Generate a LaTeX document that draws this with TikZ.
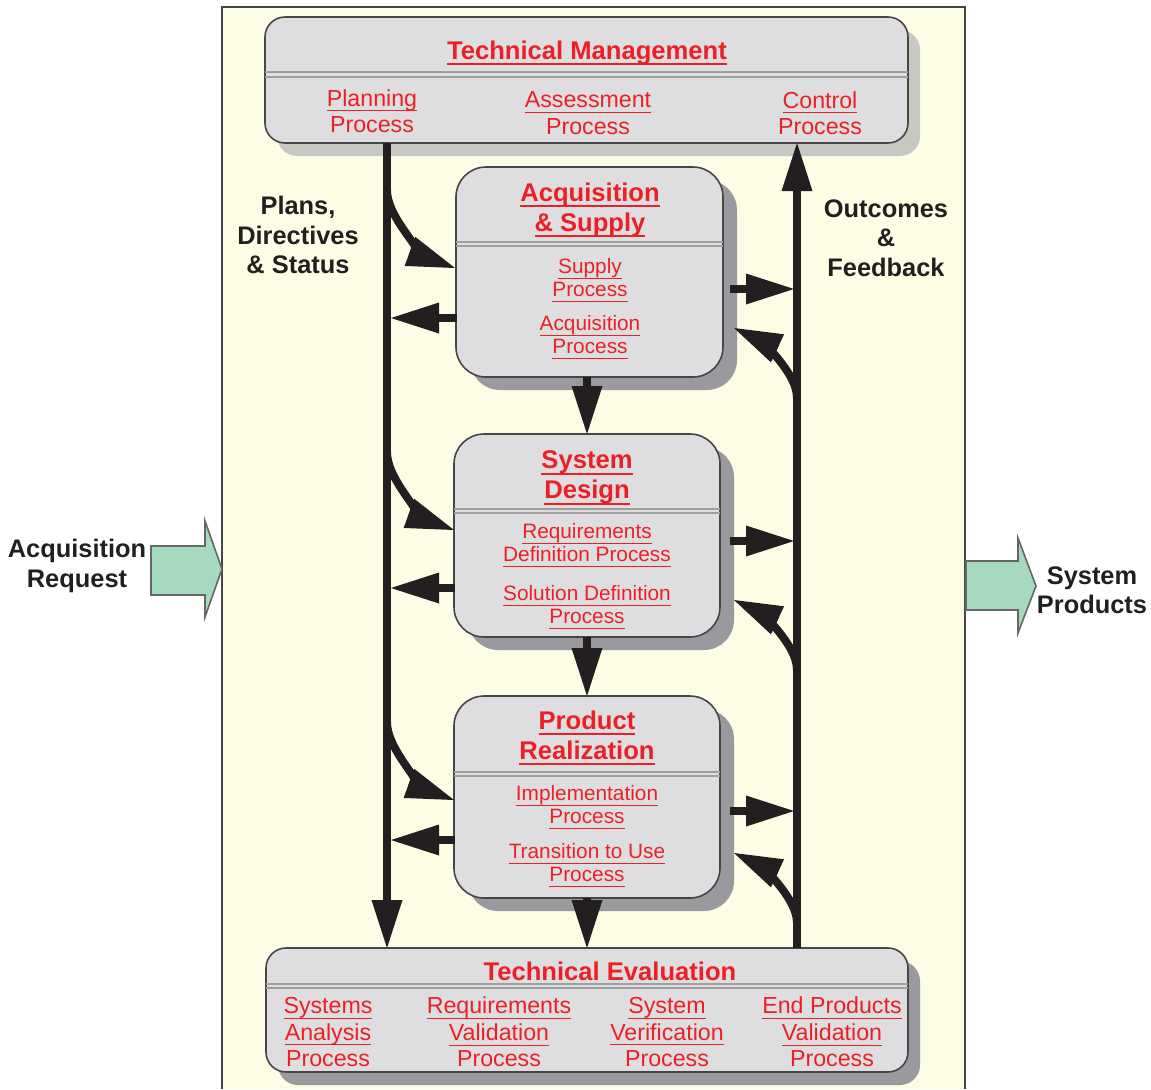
\documentclass[tikz,border=0pt]{standalone}
\usepackage{fontspec}
\setmainfont{Liberation Sans}
\usetikzlibrary{arrows.meta,shadows}

\definecolor{panelcream}{RGB}{253,253,230}
\definecolor{boxgray}{RGB}{222,222,225}
\definecolor{shadegray}{RGB}{154,154,158}
\definecolor{shadelight}{RGB}{200,200,194}
\definecolor{procred}{RGB}{236,32,36}
\definecolor{flowgreen}{RGB}{166,218,191}
\definecolor{edgegray}{RGB}{70,70,70}
\definecolor{inkblack}{RGB}{35,31,32}

% red underline with fixed depth and thickness
\newcommand{\redul}[3]{{\setbox0=\hbox{#3}\copy0\kern-\wd0\rule[-#1]{\wd0}{#2}}}
\newcommand{\tu}[1]{\redul{3.2pt}{1pt}{#1}}
\newcommand{\su}[1]{\redul{2.6pt}{0.5pt}{#1}}

\tikzset{
  mainbox/.style={draw=edgegray, line width=0.8pt, fill=boxgray, rounded corners=10pt,
    drop shadow={shadow xshift=6pt, shadow yshift=-6.5pt, fill=#1, opacity=1}},
  stepbox/.style={draw=edgegray, line width=0.8pt, fill=boxgray, rounded corners=15pt,
    drop shadow={shadow xshift=7pt, shadow yshift=-6.5pt, fill=shadegray, opacity=1}},
  divline/.style={draw=gray!75, line width=0.6pt},
  headtext/.style={text=procred, font=\bfseries\fontsize{12.8}{15}\selectfont, align=center},
  toptext/.style={text=procred, font=\fontsize{11.6}{13.2}\selectfont, align=center},
  midtext/.style={text=procred, font=\fontsize{10.4}{11.5}\selectfont, align=center},
  sidetext/.style={text=inkblack, font=\bfseries\fontsize{12.7}{14.7}\selectfont, align=center},
  flow/.style={draw=inkblack, line width=4pt, -{Triangle[length=24pt, width=15.5pt, line width=0pt]}},
  bigarrow/.style={draw=gray!80!black, line width=0.8pt, fill=flowgreen, line join=miter}
}

\begin{document}
\begin{tikzpicture}[x=0.5pt, y=-0.5pt, every node/.style={inner sep=0pt, outer sep=0pt}]
    \useasboundingbox (0,0) rectangle (1151,1089);

    % Background panel
    \fill[panelcream] (222,7) rectangle (965,1089);
    \draw[edgegray, line width=0.8pt] (222,1089) -- (222,7) -- (965,7) -- (965,1089);

    % Input and output arrows
    \draw[bigarrow] (151,546) -- (205,546) -- (205,521) -- (222,569) -- (205,617) -- (205,595) -- (151,595) -- cycle;
    \node[sidetext] (req) at (77,566) {Acquisition\\Request};
    \draw[bigarrow] (966,561) -- (1018,561) -- (1018,538) -- (1036,586) -- (1018,633) -- (1018,610) -- (966,610) -- cycle;
    \node[sidetext] (prod) at (1092,590) {System\\Products};

    % Technical Management
    \node[mainbox=shadelight, minimum width=321.5pt, minimum height=63pt] (tm) at (586.5,80) {};
    \draw[divline] (tm.west |- 0,72) -- (tm.east |- 0,72);
    \draw[divline] (tm.west |- 0,77) -- (tm.east |- 0,77);
    \node[headtext] (tmT) at (587,53) {\tu{Technical Management}};
    \node[toptext] (tmP) at (372,111) {\su{Planning}\\Process};
    \node[toptext] (tmA) at (588,113) {\su{Assessment}\\Process};
    \node[toptext] (tmC) at (820,113) {\su{Control}\\Process};

    % Acquisition & Supply
    \node[stepbox, minimum width=133.5pt, minimum height=105pt] (acq) at (589.5,272) {};
    \draw[divline] (acq.west |- 0,242) -- (acq.east |- 0,242);
    \draw[divline] (acq.west |- 0,246) -- (acq.east |- 0,246);
    \node[headtext] (acqT) at (590,210) {\tu{Acquisition}\\\tu{\& Supply}};
    \node[midtext] (acqS) at (590,280) {\su{Supply}\\\su{Process}};
    \node[midtext] (acqA) at (590,337) {\su{Acquisition}\\\su{Process}};

    % System Design
    \node[stepbox, minimum width=133pt, minimum height=101.5pt] (sd) at (587,535.5) {};
    \draw[divline] (sd.west |- 0,509) -- (sd.east |- 0,509);
    \draw[divline] (sd.west |- 0,513) -- (sd.east |- 0,513);
    \node[headtext] (sdT) at (587,478) {\tu{System}\\\tu{Design}};
    \node[midtext] (sdR) at (587,545) {\su{Requirements}\\\su{Definition Process}};
    \node[midtext] (sdS) at (587,607) {\su{Solution Definition}\\\su{Process}};

    % Product Realization
    \node[stepbox, minimum width=133pt, minimum height=101pt] (pr) at (587,797) {};
    \draw[divline] (pr.west |- 0,772) -- (pr.east |- 0,772);
    \draw[divline] (pr.west |- 0,776) -- (pr.east |- 0,776);
    \node[headtext] (prT) at (587,738) {\tu{Product}\\\tu{Realization}};
    \node[midtext] (prI) at (587,807) {\su{Implementation}\\\su{Process}};
    \node[midtext] (prU) at (587,865) {\su{Transition to Use}\\\su{Process}};

    % Technical Evaluation
    \node[mainbox=shadegray, minimum width=321pt, minimum height=62pt] (te) at (587,1010) {};
    \draw[divline] (te.west |- 0,984) -- (te.east |- 0,984);
    \draw[divline] (te.west |- 0,988) -- (te.east |- 0,988);
    \node[headtext] (teT) at (610,971) {Technical Evaluation};
    \node[toptext] (teA) at (328,1032) {\su{Systems}\\\su{Analysis}\\Process};
    \node[toptext] (teB) at (499,1032) {\su{Requirements}\\\su{Validation}\\Process};
    \node[toptext] (teC) at (667,1032) {\su{System}\\\su{Verification}\\Process};
    \node[toptext] (teD) at (832,1032) {\su{End Products}\\\su{Validation}\\Process};

    % Side labels
    \node[sidetext] (plans) at (298,235) {Plans,\\Directives\\\& Status};
    \node[sidetext] (outc) at (886,238) {Outcomes\\\&\\Feedback};

    % Plans line and outcomes line
    \coordinate (planTop) at (387,143);
    \coordinate (planBot) at (387,948);
    \coordinate (ctrlBot) at (797,948);
    \coordinate (ctrlTop) at (797,143);
    \draw[flow] (planTop) -- (planBot);
    \draw[flow] (ctrlBot) -- (ctrlTop);

    % Ports on the two lines
    \coordinate (pd1) at (387,190);
    \coordinate (pd2) at (387,452);
    \coordinate (pd3) at (387,722);
    \coordinate (pu1) at (391,318);
    \coordinate (pu2) at (391,588);
    \coordinate (pu3) at (391,840);
    \coordinate (od1) at (794,289);
    \coordinate (od2) at (794,541);
    \coordinate (od3) at (794,811);
    \coordinate (ou1) at (797,398);
    \coordinate (ou2) at (797,670);
    \coordinate (ou3) at (797,923);

    % Ports on the boxes
    \coordinate (acqIn) at (455,268);
    \coordinate (acqOut) at (457,318);
    \coordinate (acqRes) at (730,289);
    \coordinate (acqFb) at (734,328);
    \coordinate (sdIn) at (454,530);
    \coordinate (sdOut) at (455,588);
    \coordinate (sdRes) at (730,541);
    \coordinate (sdFb) at (734,600);
    \coordinate (prIn) at (454,800);
    \coordinate (prOut) at (455,840);
    \coordinate (prRes) at (730,811);
    \coordinate (prFb) at (734,853);

    % Arrows on the left
    \draw[flow] (pd1) .. controls +(0,32) and +(-19,-7) .. (acqIn);
    \draw[flow] (pd2) .. controls +(0,32) and +(-19,-7) .. (sdIn);
    \draw[flow] (pd3) .. controls +(0,32) and +(-19,-7) .. (prIn);
    \draw[flow] (acqOut) -- (pu1);
    \draw[flow] (sdOut) -- (pu2);
    \draw[flow] (prOut) -- (pu3);

    % Arrows on the right
    \draw[flow] (acqRes) -- (od1);
    \draw[flow] (sdRes) -- (od2);
    \draw[flow] (prRes) -- (od3);
    \draw[flow] (ou1) .. controls +(0,-30) and +(15,7) .. (acqFb);
    \draw[flow] (ou2) .. controls +(0,-30) and +(15,7) .. (sdFb);
    \draw[flow] (ou3) .. controls +(0,-30) and +(15,7) .. (prFb);

    % Arrows down the middle
    \draw[flow] (sd.north |- acq.south) -- (sd.north);
    \draw[flow] (sd.south) -- (pr.north);
    \draw[flow] (pr.south) -- (pr.south |- te.north);
\end{tikzpicture}
\end{document}
